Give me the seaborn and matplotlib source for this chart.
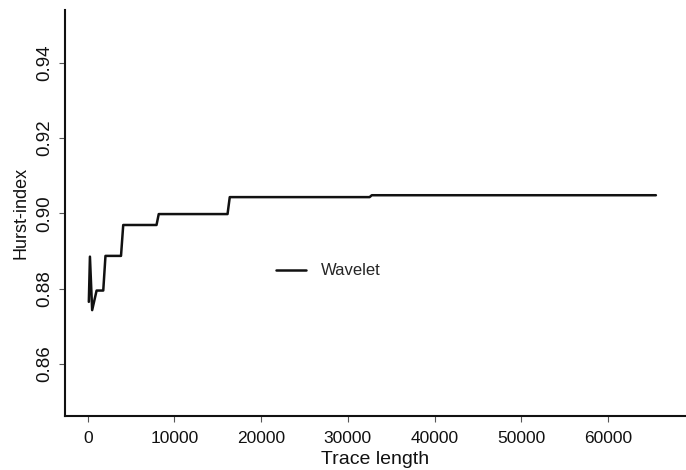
import numpy as np
import pandas as pd
import seaborn as sns
import matplotlib
matplotlib.use("Agg")
import matplotlib.pyplot as plt

# Hurst-index estimate (wavelet) vs. trace length
trace_length = [128, 256, 512, 1024, 1792, 2048, 3840, 4096, 7936, 8192,
                16128, 16384, 32512, 32768, 65536]
hurst_index = [0.8765, 0.8885, 0.8743, 0.8795, 0.8795, 0.8887, 0.8887, 0.8969,
               0.8969, 0.8998, 0.8998, 0.9043, 0.9043, 0.9048, 0.9048]
x_ticks = [0, 10000, 20000, 30000, 40000, 50000, 60000]
y_ticks = [0.86, 0.88, 0.90, 0.92, 0.94]

df = pd.DataFrame({"Trace length": trace_length, "Hurst-index": hurst_index})

sns.set_theme(style="ticks")
plt.rcParams["font.family"] = ["Liberation Sans", "DejaVu Sans"]

fig = plt.figure(figsize = (6.86, 4.70), dpi = 100)
ax = fig.add_axes([65 / 686, 54 / 470, 621 / 686, 406.5 / 470])

sns.lineplot(data = df, x = "Trace length", y = "Hurst-index", ax = ax,
             color = "#111111", linewidth = 1.8, label = "Wavelet",
             estimator = None, sort = False)

ax.set_xlim(-2620, 69008)
ax.set_ylim(0.8462, 0.9541)
ax.set_xticks(x_ticks)
ax.set_xticklabels([str(t) for t in x_ticks])
ax.set_yticks(y_ticks)
ax.set_yticklabels([f"{t:.2f}" for t in y_ticks], rotation = 90, va = "center")

ax.tick_params(axis = "both", direction = "out", length = 4.5, width = 0.8,
               color = "#555555", labelcolor = "#111111", pad = 4)
ax.tick_params(axis = "x", labelsize = 12.5, pad = 6)
ax.tick_params(axis = "y", labelsize = 13.5)
ax.set_xlabel("Trace length", fontsize = 14, color = "#111111", labelpad = 4)
ax.set_ylabel("Hurst-index", fontsize = 13, color = "#111111", labelpad = 5)

for side in ["top", "right"]:
    ax.spines[side].set_visible(False)
for side in ["left", "bottom"]:
    ax.spines[side].set_linewidth(1.5)
    ax.spines[side].set_color("#111111")

ax.legend(loc = "center left", bbox_to_anchor = (0.339, 0.357), frameon = False,
          fontsize = 12, handlelength = 1.8, handletextpad = 0.9,
          borderpad = 0, borderaxespad = 0)

fig.savefig("out.png", dpi = 100)
